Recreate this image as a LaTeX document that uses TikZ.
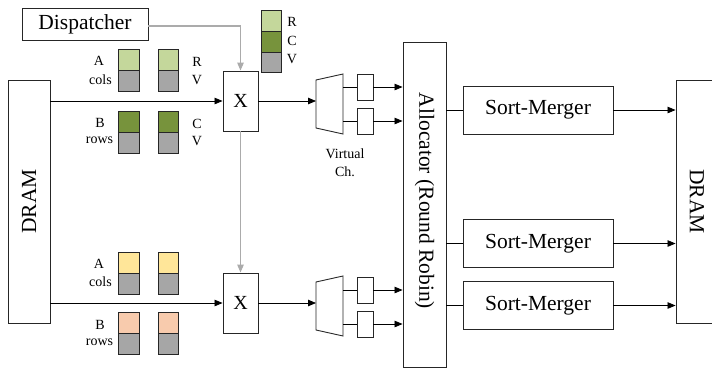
\documentclass[tikz,border=0pt]{standalone}
\usepackage{fontspec}
\setmainfont{Liberation Serif}
\usetikzlibrary{arrows.meta}
\definecolor{lgreen}{HTML}{C4D79B}
\definecolor{dgreen}{HTML}{77933C}
\definecolor{cgray}{HTML}{A6A6A6}
\definecolor{cyellow}{HTML}{FFE699}
\definecolor{corange}{HTML}{F8CBAD}
\definecolor{lngray}{HTML}{ABABAB}
\begin{document}
\begin{tikzpicture}[x=1pt,y=-1pt,
 box/.style={draw=black!85, line width=0.9pt, fill=white, inner sep=0pt, font=\fontsize{21.5}{24}\selectfont},
 bigtxt/.style={font=\fontsize{21.5}{24}\selectfont, inner sep=0pt},
 cell/.style={draw=black!85, line width=0.9pt, minimum width=20.5pt, minimum height=21pt, inner sep=0pt},
 lbl/.style={font=\fontsize{14}{16}\selectfont, inner sep=0pt},
 arr/.style={-{Triangle[length=8pt,width=6.5pt]}, line width=0.8pt},
 garr/.style={draw=lngray, line width=1.1pt, -{Triangle[length=8pt,width=6.5pt]}},
 ln/.style={line width=0.8pt},
 mux/.style={draw=black!85, line width=0.9pt, fill=white}]
\useasboundingbox (0,0) rectangle (712,370);

% main boxes
\node[box, minimum width=126pt, minimum height=32pt] (disp) at (85,24) {Dispatcher};
\node[box, minimum width=42pt, minimum height=243pt] (dramL) at (29,201.5) {};
\node[bigtxt, rotate=90] (dramLt) at (dramL) {DRAM};
\node[box, minimum width=42pt, minimum height=243pt] (dramR) at (697,201.5) {};
\node[bigtxt, rotate=-90] (dramRt) at (dramR) {DRAM};
\node[box, minimum width=35pt, minimum height=60pt, font=\fontsize{20}{22}\selectfont] (x1) at (240.5,101) {X};
\node[box, minimum width=35pt, minimum height=60pt, font=\fontsize{20}{22}\selectfont] (x2) at (240.5,303) {X};
\node[box, minimum width=43pt, minimum height=325pt] (alloc) at (424.5,204.5) {};
\node[bigtxt, rotate=-90] (alloct) at (424.5,201) {Allocator (Round Robin)};
\node[box, minimum width=150pt, minimum height=48pt] (sm1) at (538,110) {Sort-Merger};
\node[box, minimum width=150pt, minimum height=48pt] (sm2) at (538,243.5) {Sort-Merger};
\node[box, minimum width=150pt, minimum height=48pt] (sm3) at (538,305.5) {Sort-Merger};

% virtual channel buffers
\node[box, minimum width=16pt, minimum height=26pt] (vc1) at (365,87) {};
\node[box, minimum width=16pt, minimum height=26pt] (vc2) at (365,121) {};
\node[box, minimum width=16pt, minimum height=26pt] (vc3) at (365,290) {};
\node[box, minimum width=16pt, minimum height=26pt] (vc4) at (365,324) {};

% demultiplexers
\draw[mux] (316,80) -- (343,74) -- (343,134) -- (316,128) -- cycle;
\coordinate (m1in) at (316,101);
\coordinate (m1a) at (343,87);
\coordinate (m1b) at (343,121);
\draw[mux] (316,282) -- (343,276) -- (343,336) -- (316,330) -- cycle;
\coordinate (m2in) at (316,303);
\coordinate (m2a) at (343,290);
\coordinate (m2b) at (343,324);
\node[lbl, align=center] (vclbl) at (345,163) {Virtual\\[2pt]Ch.};

% legend stack top
\node[cell, fill=lgreen, minimum height=20.7pt] (k1) at (271.5,21) {};
\node[cell, fill=dgreen, minimum height=20.7pt] (k2) at (271.5,41.7) {};
\node[cell, fill=cgray, minimum height=20.7pt] (k3) at (271.5,62.4) {};
\node[lbl] (kR) at (292,22) {R};
\node[lbl] (kC) at (292,41) {C};
\node[lbl] (kV) at (292,59) {V};

% top data stacks
\node[cell, fill=lgreen] (a1t) at (129,60) {};
\node[cell, fill=cgray] (a1b) at (129,81) {};
\node[cell, fill=lgreen] (a2t) at (168.5,60) {};
\node[cell, fill=cgray] (a2b) at (168.5,81) {};
\node[cell, fill=dgreen] (b1t) at (129,121.5) {};
\node[cell, fill=cgray] (b1b) at (129,142.5) {};
\node[cell, fill=dgreen] (b2t) at (168.5,121.5) {};
\node[cell, fill=cgray] (b2b) at (168.5,142.5) {};
\node[lbl] (la1) at (99,61) {A};
\node[lbl] (la2) at (100.5,80) {cols};
\node[lbl] (lb1) at (100,123) {B};
\node[lbl] (lb2) at (99.5,140) {rows};
\node[lbl] (lr1) at (197,62) {R};
\node[lbl] (lv1) at (197,80) {V};
\node[lbl] (lc1) at (197,124) {C};
\node[lbl] (lv2) at (197,141) {V};

% bottom data stacks
\node[cell, fill=cyellow] (c1t) at (129,262.5) {};
\node[cell, fill=cgray] (c1b) at (129,283.5) {};
\node[cell, fill=cyellow] (c2t) at (168.5,262.5) {};
\node[cell, fill=cgray] (c2b) at (168.5,283.5) {};
\node[cell, fill=corange] (d1t) at (129,322.5) {};
\node[cell, fill=cgray] (d1b) at (129,343.5) {};
\node[cell, fill=corange] (d2t) at (168.5,322.5) {};
\node[cell, fill=cgray] (d2b) at (168.5,343.5) {};
\node[lbl] (lc3) at (99,264) {A};
\node[lbl] (lc4) at (100.5,282) {cols};
\node[lbl] (ld3) at (100,325) {B};
\node[lbl] (ld4) at (99.5,342) {rows};

% dispatcher control lines
\draw[garr] (disp.east |- 0,26) -| (x1.north);
\draw[garr] (x1.south) -- (x2.north);

% data path
\draw[arr] (dramL.east |- x1) -- (x1.west);
\draw[arr] (dramL.east |- x2) -- (x2.west);
\draw[arr] (x1.east) -- (m1in);
\draw[arr] (x2.east) -- (m2in);
\draw[ln] (m1a) -- (vc1.west);
\draw[ln] (m1b) -- (vc2.west);
\draw[ln] (m2a) -- (vc3.west);
\draw[ln] (m2b) -- (vc4.west);
\draw[arr] (vc1.east) -- (alloc.west |- vc1);
\draw[arr] (vc2.east) -- (alloc.west |- vc2);
\draw[arr] (vc3.east) -- (alloc.west |- vc3);
\draw[arr] (vc4.east) -- (alloc.west |- vc4);
\draw[ln] (alloc.east |- sm1) -- (sm1.west);
\draw[ln] (alloc.east |- sm2) -- (sm2.west);
\draw[ln] (alloc.east |- sm3) -- (sm3.west);
\draw[arr] (sm1.east) -- (dramR.west |- sm1);
\draw[arr] (sm2.east) -- (dramR.west |- sm2);
\draw[arr] (sm3.east) -- (dramR.west |- sm3);
\end{tikzpicture}
\end{document}
